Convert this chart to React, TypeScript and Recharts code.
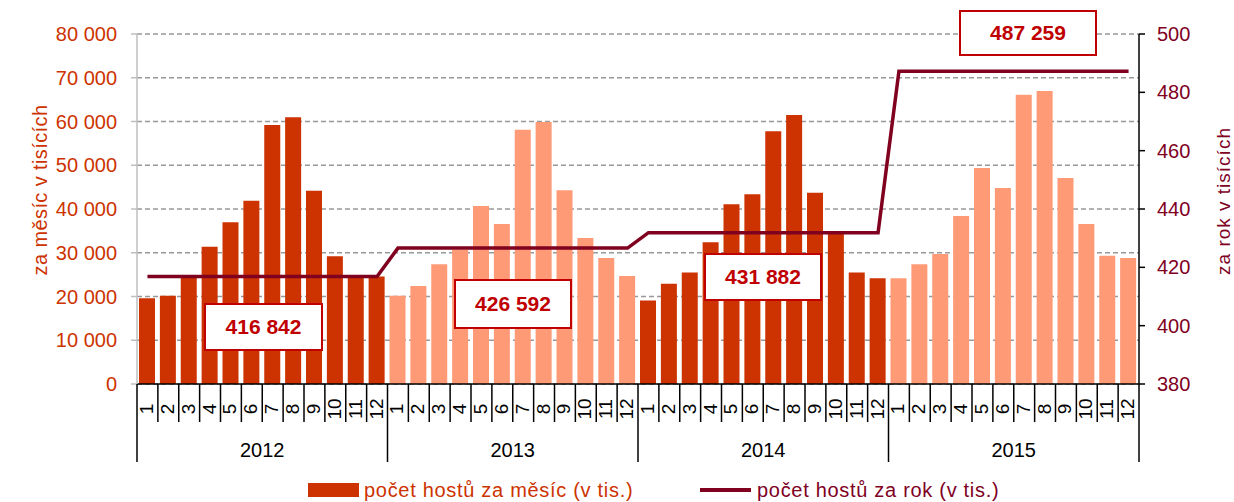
import React from "react";
import { ComposedChart, Bar, Line, XAxis, YAxis, CartesianGrid, Cell } from "recharts";

const years = ["2012", "2013", "2014", "2015"];
const monthLabels = ["1", "2", "3", "4", "5", "6", "7", "8", "9", "10", "11", "12"];

// počet hostů za měsíc
const guests2012 = [19600, 20200, 24300, 31400, 37000, 41900, 59200, 61000, 44200, 29200, 24500, 24600];
const guests2013 = [20200, 22400, 27400, 30700, 40700, 36600, 58100, 59900, 44300, 33400, 28800, 24700];
const guests2014 = [19100, 22900, 25500, 32400, 41100, 43400, 57800, 61500, 43700, 34600, 25500, 24200];
const guests2015 = [24200, 27400, 29700, 38400, 49400, 44800, 66100, 67000, 47100, 36600, 29300, 28800];

// počet hostů za rok (v tis.)
const yearTotals = [416.842, 426.592, 431.882, 487.259];
const totalLabels = ["416 842", "426 592", "431 882", "487 259"];

const leftTicks = [0, 10000, 20000, 30000, 40000, 50000, 60000, 70000, 80000];
const rightTicks = [380, 400, 420, 440, 460, 480, 500];

const monthly = [guests2012, guests2013, guests2014, guests2015];

const data = years.flatMap((y, yi) =>
  monthLabels.map((m, mi) => ({
    key: `${y}-${m}`,
    year: y,
    month: m,
    yi,
    perMonth: monthly[yi][mi],
    perYear: yearTotals[yi],
  }))
);

const W = 1234;
const H = 502;
const PLOT_LEFT = 137;
const PLOT_RIGHT = 1139;
const PLOT_TOP = 34;
const AXIS_Y = 384;
const BAND = (PLOT_RIGHT - PLOT_LEFT) / data.length;

const FONT = '"Liberation Sans", Arial, sans-serif';
const DARK = "#CC3300";
const LIGHT = "#FF9A76";
const LINE = "#80001F";
const BOX = "#C00000";

const boxPos = [
  { left: 204, top: 303, width: 119, height: 48 },
  { left: 454, top: 279, width: 118, height: 50 },
  { left: 704, top: 253, width: 118, height: 48 },
  { left: 959, top: 10, width: 138, height: 46 },
];

const fmt = (v: number) => String(v).replace(/\B(?=(\d{3})+(?!\d))/g, " ");

const MonthTick = (props: any) => {
  const { x, index } = props;
  const i = index ?? props.payload?.index ?? 0;
  const m = (i % 12) + 1;
  const right = x + BAND / 2;
  return (
    <g>
      {i === 0 && <line x1={x - BAND / 2} x2={x - BAND / 2} y1={AXIS_Y} y2={462} stroke="#000" strokeWidth={1.5} />}
      <line x1={right} x2={right} y1={AXIS_Y} y2={m === 12 ? 462 : 422} stroke="#000" strokeWidth={1.5} />
      <text
        x={x - 1}
        y={409}
        transform={`rotate(-90, ${x - 1}, 409)`}
        textAnchor="middle"
        dominantBaseline="central"
        fontSize={19}
        fontFamily={FONT}
        fill="#000"
      >
        {monthLabels[i % 12]}
      </text>
      {m === 6 && (
        <text x={right} y={450} textAnchor="middle" dominantBaseline="central" fontSize={20} fontFamily={FONT} fill="#000">
          {years[Math.floor(i / 12)]}
        </text>
      )}
    </g>
  );
};

const LeftTitle = () => (
  <text
    x={40}
    y={190}
    transform="rotate(-90, 40, 190)"
    textAnchor="middle"
    dominantBaseline="central"
    fontSize={20}
    letterSpacing={0.4}
    fontFamily={FONT}
    fill={DARK}
  >
    za měsíc v tisících
  </text>
);

const RightTitle = () => (
  <text
    x={1223}
    y={201}
    transform="rotate(-90, 1223, 201)"
    textAnchor="middle"
    dominantBaseline="central"
    fontSize={19}
    letterSpacing={1}
    fontFamily={FONT}
    fill={LINE}
  >
    za rok v tisících
  </text>
);

export default function App() {
  return (
    <div style={{ position: "absolute", left: 0, top: 0, width: W, height: H, background: "#fff", fontFamily: FONT }}>
      <ComposedChart width={W} height={H} data={data} margin={{ top: PLOT_TOP, right: 0, left: 0, bottom: 0 }} barSize={16}>
        <CartesianGrid yAxisId="left" vertical={false} stroke="#999" strokeWidth={1.5} strokeDasharray="5 3" />
        <XAxis
          dataKey="key"
          interval={0}
          height={H - AXIS_Y}
          tickLine={false}
          axisLine={{ stroke: "#000", strokeWidth: 1.5 }}
          tick={<MonthTick />}
        />
        <YAxis
          yAxisId="left"
          width={PLOT_LEFT}
          domain={[0, 80000]}
          ticks={leftTicks}
          tickFormatter={fmt}
          axisLine={{ stroke: "#BFBFBF", strokeWidth: 1.5 }}
          tickLine={{ stroke: "#BFBFBF", strokeWidth: 1.5 }}
          tickSize={6}
          tickMargin={14}
          tick={{ fill: DARK, fontSize: 20, fontFamily: FONT }}
          label={<LeftTitle />}
        />
        <YAxis
          yAxisId="right"
          orientation="right"
          width={W - PLOT_RIGHT}
          domain={[380, 500]}
          ticks={rightTicks}
          axisLine={{ stroke: "#000", strokeWidth: 1.5 }}
          tickLine={{ stroke: "#000", strokeWidth: 1.5 }}
          tickSize={6}
          tickMargin={12}
          tick={{ fill: LINE, fontSize: 20, fontFamily: FONT }}
          label={<RightTitle />}
        />
        <Bar yAxisId="left" dataKey="perMonth" isAnimationActive={false}>
          {data.map((d) => (
            <Cell key={d.key} fill={d.yi % 2 === 0 ? DARK : LIGHT} />
          ))}
        </Bar>
        <Line
          yAxisId="right"
          type="linear"
          dataKey="perYear"
          stroke={LINE}
          strokeWidth={3.5}
          dot={false}
          activeDot={false}
          isAnimationActive={false}
        />
      </ComposedChart>

      {boxPos.map((b, i) => (
        <div
          key={totalLabels[i]}
          style={{
            position: "absolute",
            left: b.left,
            top: b.top,
            width: b.width,
            height: b.height,
            boxSizing: "border-box",
            border: `2px solid ${BOX}`,
            background: "#fff",
            color: BOX,
            fontWeight: "bold",
            fontSize: 21,
            display: "flex",
            alignItems: "center",
            justifyContent: "center",
          }}
        >
          {totalLabels[i]}
        </div>
      ))}

      <div style={{ position: "absolute", left: 308, top: 483, width: 51, height: 14, background: DARK }} />
      <div
        style={{
          position: "absolute",
          left: 364,
          top: 478,
          fontSize: 20,
          lineHeight: "24px",
          letterSpacing: 0.7,
          color: DARK,
          whiteSpace: "nowrap",
        }}
      >
        počet hostů za měsíc (v tis.)
      </div>
      <div style={{ position: "absolute", left: 700, top: 488, width: 51, height: 4, background: LINE }} />
      <div
        style={{
          position: "absolute",
          left: 757,
          top: 478,
          fontSize: 20,
          lineHeight: "24px",
          letterSpacing: 0.7,
          color: LINE,
          whiteSpace: "nowrap",
        }}
      >
        počet hostů za rok (v tis.)
      </div>
    </div>
  );
}
